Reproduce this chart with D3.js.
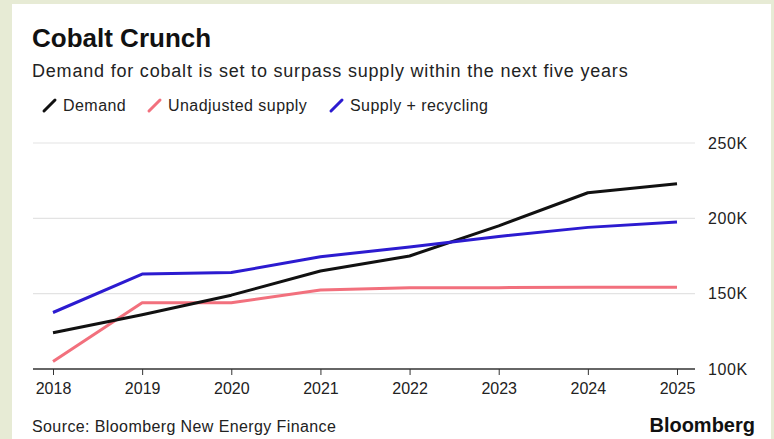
<!DOCTYPE html>
<html><head><meta charset="utf-8">
<script src="https://cdn.jsdelivr.net/npm/d3@7"></script>
<style>
html,body{margin:0;padding:0;background:#e7ebd5;}
svg{display:block;font-family:"Liberation Sans",Arial,Helvetica,sans-serif;}
</style></head>
<body>
<script>
const years = [2018, 2019, 2020, 2021, 2022, 2023, 2024, 2025];
const demand = [124, 136, 149, 165, 175, 195, 217, 223];
const unadjustedSupply = [105, 144, 144, 152.5, 154, 154, 154.3, 154.3];
const supplyRecycling = [137.5, 163, 164, 174.5, 181, 188, 194, 197.5];
const yTicks = [100, 150, 200, 250];
const seriesNames = ["Demand", "Unadjusted supply", "Supply + recycling"];
const seriesColors = ["#111111", "#f2707d", "#2c1bd0"];
const seriesData = [demand, unadjustedSupply, supplyRecycling];

const W = 774, H = 439;
const svg = d3.select("body").append("svg").attr("width", W).attr("height", H);

// frame
svg.append("rect").attr("x", 0).attr("y", 0).attr("width", W).attr("height", H).attr("fill", "#e7ebd5");
svg.append("rect").attr("x", 12).attr("y", 4).attr("width", 759).attr("height", H - 4).attr("fill", "#ffffff");

const x = d3.scalePoint().domain(years).range([53, 677]);
const y = d3.scaleLinear().domain([100, 250]).range([369, 143]);

// title
svg.append("text").attr("x", 32).attr("y", 47).attr("font-size", 26).attr("font-weight", "bold").attr("fill", "#111").text("Cobalt Crunch");
svg.append("text").attr("x", 32).attr("y", 77).attr("font-size", 18).attr("letter-spacing", 0.8).attr("fill", "#222").text("Demand for cobalt is set to surpass supply within the next five years");

// legend
const legendX = [43, 148, 330];
seriesNames.forEach((n, i) => {
  const g = svg.append("g");
  g.append("line").attr("x1", legendX[i] + 1).attr("y1", 111).attr("x2", legendX[i] + 12).attr("y2", 100)
    .attr("stroke", seriesColors[i]).attr("stroke-width", 3).attr("stroke-linecap", "round");
  g.append("text").attr("x", legendX[i] + 20).attr("y", 111).attr("font-size", 16).attr("letter-spacing", 0.45).attr("fill", "#222").text(n);
});

// gridlines
svg.append("g").selectAll("line").data(yTicks.filter(d => d > 100)).join("line")
  .attr("x1", 33).attr("x2", 695).attr("y1", d => y(d)).attr("y2", d => y(d))
  .attr("stroke", "#e3e3e3").attr("stroke-width", 1.2);

// y labels
const yAxis = d3.axisRight(y).tickValues(yTicks).tickFormat(d => d + "K").tickSize(0).tickPadding(0);
const yg = svg.append("g").attr("transform", "translate(708,0)").call(yAxis);
yg.select(".domain").remove();
yg.selectAll("text").attr("font-size", 16).attr("letter-spacing", 0.6).attr("fill", "#222").attr("font-family", "Liberation Sans, Arial, sans-serif");

// x axis
const xAxis = d3.axisBottom(x).tickSize(6).tickPadding(8).tickSizeOuter(0);
const xg = svg.append("g").attr("transform", "translate(0,369)").call(xAxis);
xg.select(".domain").remove();
xg.selectAll(".tick line").attr("stroke", "#333").attr("stroke-width", 1);
xg.selectAll("text").attr("font-size", 16).attr("fill", "#222").attr("font-family", "Liberation Sans, Arial, sans-serif");
svg.append("line").attr("x1", 33).attr("x2", 695).attr("y1", 369).attr("y2", 369).attr("stroke", "#333").attr("stroke-width", 1.5);

// lines
const line = d3.line().x((d, i) => x(years[i])).y(d => y(d));
[1, 0, 2].forEach(i => {
  svg.append("path").datum(seriesData[i]).attr("d", line).attr("fill", "none")
    .attr("stroke", seriesColors[i]).attr("stroke-width", 3).attr("stroke-linejoin", "round").attr("stroke-linecap", "butt");
});

// footer
svg.append("text").attr("x", 32).attr("y", 432).attr("font-size", 16).attr("letter-spacing", 0.4).attr("fill", "#222").text("Source: Bloomberg New Energy Finance");
svg.append("text").attr("x", 755).attr("y", 432).attr("text-anchor", "end").attr("font-size", 20).attr("font-weight", "bold").attr("fill", "#111").text("Bloomberg");
</script>
</body></html>
